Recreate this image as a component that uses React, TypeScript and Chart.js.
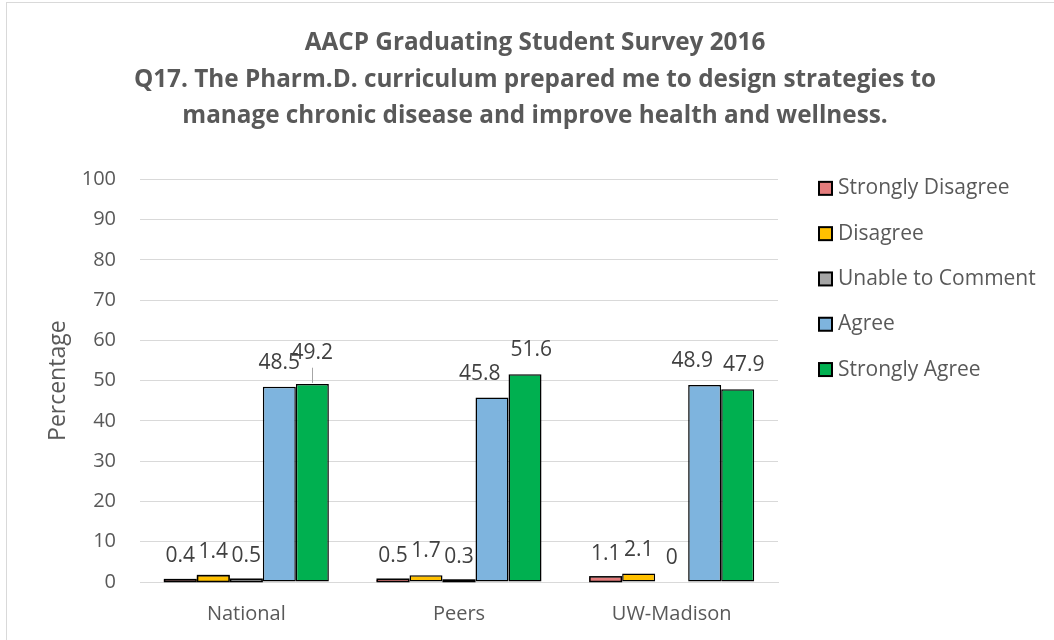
import React, { useEffect, useRef } from "react";
import { Chart, registerables } from "chart.js";

Chart.register(...registerables);

const categories = ["National", "Peers", "UW-Madison"];
const seriesNames = ["Strongly Disagree", "Disagree", "Unable to Comment", "Agree", "Strongly Agree"];
const stronglyDisagree = [0.4, 0.5, 1.1];
const disagree = [1.4, 1.7, 2.1];
const unableToComment = [0.5, 0.3, 0];
const agree = [48.5, 45.8, 48.9];
const stronglyAgree = [49.2, 51.6, 47.9];
const seriesColors = ["#E47C7C", "#FFC000", "#A5A5A5", "#7EB4DE", "#00B050"];
const titleLines = [
  "AACP Graduating Student Survey 2016",
  "Q17. The Pharm.D. curriculum prepared me to design strategies to",
  "manage chronic disease and improve health and wellness.",
];
const yAxisTitle = "Percentage";
const yMin = 0;
const yMax = 100;
const yStep = 10;

const FONT = "'Open Sans'";
const TEXT = "#595959";
const LABEL_SIZE = 21;

const thinBarOutline = {
  id: "thinBarOutline",
  afterDatasetsDraw(chart: any) {
    const ctx = chart.ctx;
    ctx.save();
    ctx.strokeStyle = "#000000";
    ctx.lineWidth = 1.5;
    chart.data.datasets.forEach((ds: any, d: number) => {
      chart.getDatasetMeta(d).data.forEach((el: any, i: number) => {
        const v = ds.data[i];
        const h = Math.abs(el.base - el.y);
        if (v > 0 && h < 6) {
          const left = el.x - el.width / 2;
          ctx.fillStyle = ds.backgroundColor;
          ctx.fillRect(left, el.y, el.width, h);
          ctx.strokeRect(left + 0.75, el.y - 0.75, el.width - 1.5, h + 0.75);
        }
      });
    });
    ctx.restore();
  },
};

const barLabels = {
  id: "barLabels",
  afterDatasetsDraw(chart: any) {
    const ctx = chart.ctx;
    ctx.save();
    ctx.font = `${LABEL_SIZE}px ${FONT}`;
    ctx.textAlign = "center";
    ctx.textBaseline = "middle";
    const nCat = chart.data.labels.length;
    const nDs = chart.data.datasets.length;
    for (let c = 0; c < nCat; c++) {
      const items: any[] = [];
      for (let d = 0; d < nDs; d++) {
        const el = chart.getDatasetMeta(d).data[c];
        const v = chart.data.datasets[d].data[c];
        const text = String(v);
        const w = ctx.measureText(text).width;
        items.push({ x: el.x, y: el.y - 24, top: el.y, v, text, w, leader: false });
      }
      for (let i = 1; i < items.length; i++) {
        const a = items[i - 1];
        const b = items[i];
        const needed = (a.w + b.w) / 2 + 2;
        const vOverlap = Math.abs(a.y - b.y) < 24;
        if (b.x - a.x < needed && vOverlap) {
          if (b.v > a.v && b.v - a.v < 1) {
            b.y = a.y - 10;
            b.leader = true;
          } else {
            const o = needed + 8 - (b.x - a.x);
            a.x -= (o * 2) / 3;
            b.x += o / 3;
          }
        }
      }
      for (const it of items) {
        if (it.leader) {
          ctx.strokeStyle = "#A6A6A6";
          ctx.lineWidth = 1;
          ctx.beginPath();
          ctx.moveTo(Math.round(it.x) + 0.5, it.y + 15);
          ctx.lineTo(Math.round(it.x) + 0.5, it.top - 1);
          ctx.stroke();
        }
        ctx.fillStyle = "#404040";
        ctx.fillText(it.text, it.x, it.y);
      }
    }
    ctx.restore();
  },
};

const sideLegend = {
  id: "sideLegend",
  afterDraw(chart: any) {
    const ctx = chart.ctx;
    const area = chart.chartArea;
    ctx.save();
    ctx.font = `21px ${FONT}`;
    ctx.textAlign = "left";
    ctx.textBaseline = "middle";
    chart.data.datasets.forEach((ds: any, i: number) => {
      const x = area.right + 40;
      const y = area.top + 9 + i * 45.3;
      ctx.fillStyle = "#000";
      ctx.fillRect(x, y - 7.5, 15, 15);
      ctx.fillStyle = ds.backgroundColor;
      ctx.fillRect(x + 2, y - 5.5, 11, 11);
      ctx.fillStyle = TEXT;
      ctx.fillText(ds.label, x + 20, y);
    });
    ctx.restore();
  },
};

export default function App() {
  const ref = useRef<HTMLCanvasElement>(null);
  useEffect(() => {
    document.body.style.margin = "0";
    const values = [stronglyDisagree, disagree, unableToComment, agree, stronglyAgree];
    const chart = new Chart(ref.current as HTMLCanvasElement, {
      type: "bar",
      data: {
        labels: categories,
        datasets: seriesNames.map((name, i) => ({
          label: name,
          data: values[i],
          backgroundColor: seriesColors[i],
          borderColor: "#000000",
          borderWidth: 1.5,
          borderSkipped: false,
          categoryPercentage: 0.776,
          barPercentage: 1.0,
        })),
      },
      options: {
        responsive: false,
        animation: false,
        events: [],
        layout: { padding: 0 },
        plugins: {
          legend: { display: false },
          tooltip: { enabled: false },
          title: {
            display: true,
            text: titleLines,
            color: TEXT,
            font: { family: FONT, size: 24.3, weight: "bold", lineHeight: 1.5 },
            padding: { top: 22, bottom: 45 },
          },
        },
        scales: {
          x: {
            grid: { display: false },
            border: { display: true, color: "#D9D9D9" },
            ticks: { color: TEXT, font: { family: FONT, size: 20 }, padding: 12 },
            afterFit(s: any) {
              s.height = 61;
            },
          },
          y: {
            min: yMin,
            max: yMax,
            ticks: { stepSize: yStep, color: TEXT, font: { family: FONT, size: 20 }, padding: 24 },
            grid: { color: "#D9D9D9", drawTicks: false },
            border: { display: false },
            title: {
              display: true,
              text: yAxisTitle,
              color: TEXT,
              font: { family: FONT, size: 23 },
              padding: { top: 38, bottom: 0 },
            },
            afterFit(s: any) {
              s.width = 133;
            },
          },
          legendSpace: {
            type: "linear",
            position: "right",
            display: true,
            grid: { display: false },
            ticks: { display: false },
            border: { display: false },
            afterFit(s: any) {
              s.width = 285;
            },
          },
        },
      },
      plugins: [thinBarOutline, barLabels, sideLegend],
    } as any);
    return () => chart.destroy();
  }, []);
  return (
    <div style={{ position: "fixed", left: 0, top: 0, width: 1054, height: 640, overflow: "hidden", background: "#fff" }}>
      <div
        style={{
          position: "absolute",
          left: 6,
          top: 2,
          width: 1200,
          height: 800,
          borderLeft: "1px solid #D9D9D9",
          borderTop: "1px solid #D9D9D9",
        }}
      />
      <canvas ref={ref} width={1056} height={640} style={{ position: "absolute", left: 7, top: 3, display: "block" }} />
    </div>
  );
}
